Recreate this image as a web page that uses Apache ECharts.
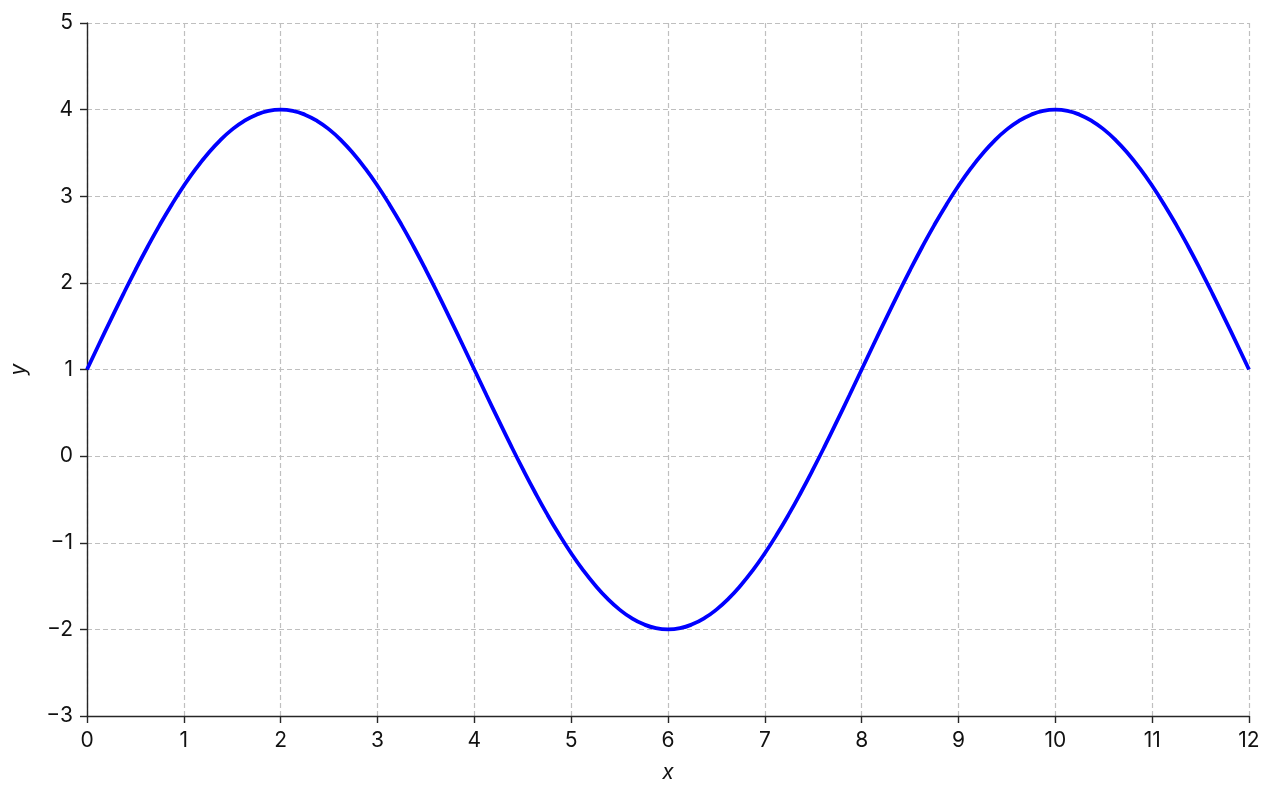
<!DOCTYPE html>
<html>
<head>
<meta charset="utf-8">
<script src="https://cdn.jsdelivr.net/npm/echarts@6/dist/echarts.min.js"></script>
<style>
  html, body { margin: 0; padding: 0; background: #fff; }
  #chart { width: 1276px; height: 798px; }
</style>
</head>
<body>
<div id="chart"></div>
<script>
'use strict';

// curve samples, every 1/8 along x
var xValues = [0, 0.125, 0.25, 0.375, 0.5, 0.625, 0.75, 0.875, 1, 1.125, 1.25, 1.375, 1.5, 1.625, 1.75, 1.875,
    2, 2.125, 2.25, 2.375, 2.5, 2.625, 2.75, 2.875, 3, 3.125, 3.25, 3.375, 3.5, 3.625, 3.75, 3.875,
    4, 4.125, 4.25, 4.375, 4.5, 4.625, 4.75, 4.875, 5, 5.125, 5.25, 5.375, 5.5, 5.625, 5.75, 5.875,
    6, 6.125, 6.25, 6.375, 6.5, 6.625, 6.75, 6.875, 7, 7.125, 7.25, 7.375, 7.5, 7.625, 7.75, 7.875,
    8, 8.125, 8.25, 8.375, 8.5, 8.625, 8.75, 8.875, 9, 9.125, 9.25, 9.375, 9.5, 9.625, 9.75, 9.875,
    10, 10.125, 10.25, 10.375, 10.5, 10.625, 10.75, 10.875, 11, 11.125, 11.25, 11.375, 11.5, 11.625, 11.75, 11.875,
    12];
var yValues = [1, 1.294, 1.585, 1.871, 2.148, 2.414, 2.667, 2.903, 3.121, 3.319, 3.494, 3.646, 3.772, 3.871, 3.942, 3.986,
    4, 3.986, 3.942, 3.871, 3.772, 3.646, 3.494, 3.319, 3.121, 2.903, 2.667, 2.414, 2.148, 1.871, 1.585, 1.294,
    1, 0.706, 0.415, 0.129, -0.148, -0.414, -0.667, -0.903, -1.121, -1.319, -1.494, -1.646, -1.772, -1.871, -1.942, -1.986,
    -2, -1.986, -1.942, -1.871, -1.772, -1.646, -1.494, -1.319, -1.121, -0.903, -0.667, -0.414, -0.148, 0.129, 0.415, 0.706,
    1, 1.294, 1.585, 1.871, 2.148, 2.414, 2.667, 2.903, 3.121, 3.319, 3.494, 3.646, 3.772, 3.871, 3.942, 3.986,
    4, 3.986, 3.942, 3.871, 3.772, 3.646, 3.494, 3.319, 3.121, 2.903, 2.667, 2.414, 2.148, 1.871, 1.585, 1.294,
    1];

var seriesData = xValues.map(function (x, i) {
    return [x, yValues[i]];
});

var chart = echarts.init(document.getElementById('chart'));

var font = 'Inter, "Noto Sans", sans-serif';
var inkColor = '#111';
var gridLine = { show: true, lineStyle: { color: '#bfbfbf', type: [5, 3], width: 1.2 } };

chart.setOption({
    animation: false,
    grid: { left: 87, right: 27, top: 23, bottom: 82 },
    xAxis: {
        type: 'value',
        min: 0,
        max: 12,
        interval: 1,
        name: 'x',
        nameLocation: 'middle',
        nameGap: 46,
        nameTextStyle: { fontFamily: font, fontSize: 21, fontStyle: 'italic', color: inkColor },
        axisLine: { onZero: false, lineStyle: { color: '#262626', width: 1.4 } },
        axisTick: { show: true, length: 7, lineStyle: { color: '#262626', width: 1.4 } },
        axisLabel: { fontFamily: font, fontSize: 21, color: inkColor, margin: 14 },
        splitLine: gridLine
    },
    yAxis: {
        type: 'value',
        min: -3,
        max: 5,
        interval: 1,
        name: 'y',
        nameLocation: 'middle',
        nameGap: 58,
        nameRotate: 90,
        nameTextStyle: { fontFamily: font, fontSize: 21, fontStyle: 'italic', color: inkColor },
        axisLine: { show: true, onZero: false, lineStyle: { color: '#262626', width: 1.4 } },
        axisTick: { show: true, length: 7, lineStyle: { color: '#262626', width: 1.4 } },
        axisLabel: {
            fontFamily: font, fontSize: 21, color: inkColor, margin: 14,
            formatter: function (v) { return v < 0 ? '\u2212' + Math.abs(v) : String(v); }
        },
        splitLine: gridLine
    },
    series: [
        {
            type: 'line',
            data: seriesData,
            smooth: 0.5,
            showSymbol: false,
            lineStyle: { color: '#0000ff', width: 3.8 }
        }
    ]
});
</script>
</body>
</html>
